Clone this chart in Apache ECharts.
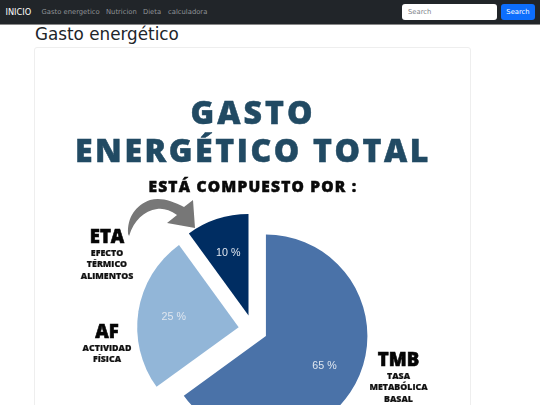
<!DOCTYPE html>
<html><head><meta charset="utf-8">
<script src="https://cdn.jsdelivr.net/npm/echarts@6/dist/echarts.min.js"></script>
<style>
html,body{margin:0;padding:0;width:540px;height:405px;overflow:hidden;background:#fff;font-family:"DejaVu Sans",sans-serif;color:#212529}
#nav{position:absolute;left:0;top:0;width:540px;height:23.5px;background:#212529;font-size:6.8px;color:#8f9397;border-bottom:.5px solid #888}
#nav span{position:absolute;top:7.5px;white-space:nowrap}
#nav #brand{left:5.5px;font-size:8.25px;color:#fff;top:7px}
#inp{position:absolute;left:402px;top:4px;width:95px;height:16px;background:#fff;border-radius:3px;color:#7b8288;font-size:6.8px;line-height:16px;text-indent:6px}
#btn{position:absolute;left:501px;top:4px;width:34px;height:16px;background:#0d6efd;border-radius:3px;color:#fff;font-size:6.8px;line-height:16px;text-align:center}
h1{position:absolute;left:35px;top:21.5px;margin:0;font-size:16.8px;line-height:24px;font-weight:400;white-space:nowrap}
#card{position:absolute;left:34px;top:47px;width:435px;height:400px;border:1px solid #eeeeee;border-radius:3px}
#chart{position:absolute;left:0;top:0;width:540px;height:405px}
.head{position:absolute;left:0;width:506px;text-align:center;font-family:"Open Sans",sans-serif;font-weight:800;white-space:nowrap;-webkit-text-stroke:.5px currentColor}
</style></head>
<body>
<div id="nav"><span id="brand">INICIO</span><span style="left:41.5px">Gasto energetico</span><span style="left:106px">Nutricion</span><span style="left:143px">Dieta</span><span style="left:168px">calculadora</span>
<div id="inp">Search</div><div id="btn">Search</div></div>
<h1>Gasto energético</h1>
<div id="card"></div>
<div id="chart"></div>
<div class="head" style="top:91.5px;font-size:32px;line-height:40px;letter-spacing:3px;color:#214a63" id="t1"></div>
<div class="head" style="top:130px;font-size:32px;line-height:40px;letter-spacing:2.6px;color:#214a63" id="t2"></div>
<div class="head" style="top:176px;font-size:15.5px;line-height:20px;letter-spacing:1.2px;color:#0a0a0a" id="t3"></div>
<script>
const categories = ['TMB', 'AF', 'ETA'];
const shares = [65, 25, 10];
const sliceColors = ['#4a72a8', '#92b6d8', '#002d62'];
const titleLines = ['GASTO', 'ENERGÉTICO TOTAL'];
const subtitle = 'ESTÁ COMPUESTO POR :';
const captions = [
  ['ETA', ['EFECTO', 'TÉRMICO', 'ALIMENTOS'], 107, 238],
  ['AF', ['ACTIVIDAD', 'FÍSICA'], 107, 333],
  ['TMB', ['TASA', 'METABÓLICA', 'BASAL'], 398.5, 361]
];
document.getElementById('t1').textContent = titleLines[0];
document.getElementById('t2').textContent = titleLines[1];
document.getElementById('t3').textContent = subtitle;
const data = categories.map((c, i) => ({name: c, value: shares[i], selected: true, itemStyle: {color: sliceColors[i]}}));
const font = '"Open Sans"';
const txt = (text, x, y, size, fill, weight, sw) => ({type: 'text', x, y, silent: true, style: {text, fill, stroke: fill, lineWidth: sw, font: `${weight} ${size}px ${font}`, textAlign: 'center', textVerticalAlign: 'middle'}});
const graphics = [];
captions.forEach(([h, lines, x, y]) => {
  graphics.push(txt(h, x, y, 18.5, '#050505', 800, .6));
  lines.forEach((l, i) => graphics.push(txt(l, x, y + 15.5 + i * 11.3, 8.8, '#111', 800, .2)));
});
const arrowPath = 'M128 234 C127 217 136 205 150 200 C161 197 172 201 184 207 L193 200 L195 228 L167 223 L177 215 C170 210 163 208 157 209 C144 211 134 220 129 236 Z';
const common = {type: 'pie', center: [253, 329.4], startAngle: 90, selectedMode: 'multiple', selectedOffset: 14.5, clockwise: true, animation: false, silent: true, labelLine: {show: false}, emphasis: {disabled: true}};
const chart = echarts.init(document.getElementById('chart'), null, {renderer: 'canvas'});
chart.setOption({
  backgroundColor: 'transparent',
  graphic: graphics,
  series: [
    Object.assign({}, common, {radius: [0, 101.5], data, label: {show: false}}),
    Object.assign({}, common, {radius: [24, 101.5], data: data.map(d => Object.assign({}, d, {itemStyle: {color: 'transparent'}})),
      label: {show: true, position: 'inside', formatter: p => p.value + ' %', color: '#dfe6ef', fontSize: 10.7, fontFamily: 'Liberation Sans', fontWeight: 400}}),
    {type: 'custom', coordinateSystem: 'none', silent: true, animation: false, data: [0],
      renderItem: () => ({type: 'path', shape: {pathData: arrowPath, x: 128, y: 199, width: 67, height: 37, layout: 'center'}, style: {fill: '#777777'}})}
  ]
});
</script>
</body></html>
